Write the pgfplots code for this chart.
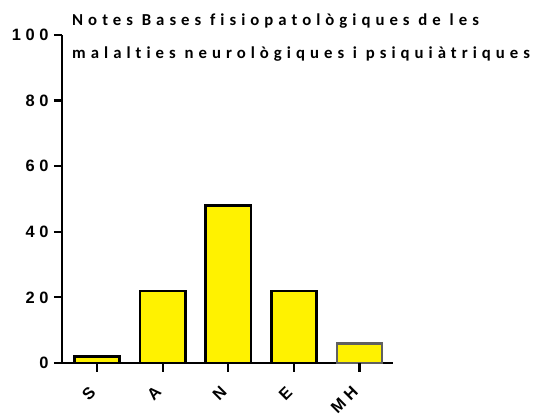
\documentclass[border=0pt]{standalone}
\usepackage{fontspec}
\setmainfont{Liberation Sans}
\newfontfamily\tickfont[LetterSpace=28]{Liberation Sans}
\newfontfamily\titlefont[LetterSpace=30,RawFeature=-liga]{Carlito}
\usepackage{pgfplots}
\pgfplotsset{compat=1.18}
\definecolor{barborder}{HTML}{606060}
\begin{document}
\begin{tikzpicture}
\useasboundingbox (-62bp,-55bp) rectangle (471bp,363bp);
\begin{axis}[at={(0,0)}, anchor=south west, scale only axis,
  width=331bp, height=328bp,
  ybar, bar width=0.69, bar shift=0pt,
  xmin=-0.535, xmax=4.51, ymin=0, ymax=100,
  axis lines*=left,
  xtick={0,1,2,3,4}, xticklabels={S,A,N,E,MH},
  ytick={0,20,40,60,80,100},
  tick align=outside, major tick length=8bp,
  axis line style={line width=2.8bp, black},
  tick style={line width=2.2bp, black},
  /pgf/number format/assume math mode=true,
  tick label style={font=\tickfont\bfseries\fontsize{16.5}{16.5}\selectfont},
  yticklabel style={xshift=-2bp},
  xticklabel style={xshift=-2bp, yshift=-16bp, rotate=45, anchor=east},
  clip=false,
]
\addplot[fill=yellow, draw=black, line width=2.6bp]
  coordinates {(0,2) (1,22) (2,48) (3,22)};
\addplot[fill=yellow, draw=barborder, line width=2.6bp]
  coordinates {(4,6)};
\pgfplotsinvokeforeach{0,1,2,3,4}{
  \draw[line width=2.2bp, black] (axis cs:#1,0) -- ([yshift=-9bp]axis cs:#1,0);
}
\end{axis}
\node[anchor=base west, inner sep=0pt, font=\titlefont\bfseries\fontsize{16.8}{16.8}\selectfont] at (10bp,337bp) {Notes Bases fisiopatològiques de les};
\node[anchor=base west, inner sep=0pt, font=\titlefont\bfseries\fontsize{16.8}{16.8}\selectfont] at (10bp,304bp) {malalties neurològiques i psiquiàtriques};
\end{tikzpicture}
\end{document}
